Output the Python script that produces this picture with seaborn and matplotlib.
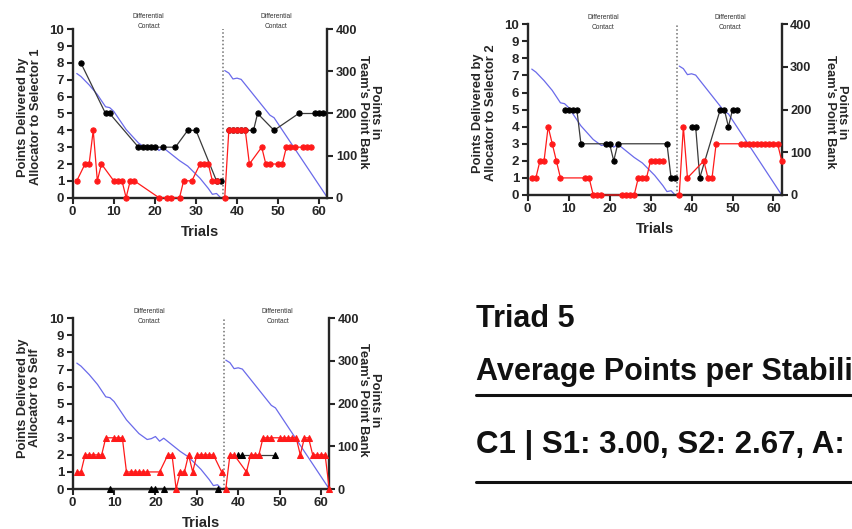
import numpy as np
import pandas as pd
import seaborn as sns
import matplotlib.pyplot as plt
from matplotlib.lines import Line2D

# team's point bank (right axis), the same in all three panels
bank_trials = [1, 2, 4, 6, 8, 9, 10, 13, 16, 18, 19, 20, 21, 22, 26, 28, 31, 33, 34, 35, 36,
               37, 38, 39, 40, 41, 48, 49, 62]
bank_points = [295, 288, 268, 245, 216, 214, 205, 162, 130, 116, 118, 123, 112, 119, 88, 75, 46, 22, 8, 10, 0,
               302, 296, 282, 284, 281, 196, 190, 0]

# allocator -> selector 1
s1_red_trials = [1, 3, 4, 5, 6, 7, 10, 11, 12, 13, 14, 15, 21, 23, 24, 26, 27, 29, 31, 32, 33, 34, 35,
                 37, 38, 39, 40, 41, 42, 43, 46, 47, 48, 50, 51, 52, 53, 54, 56, 57, 58]
s1_red = [1, 2, 2, 4, 1, 2, 1, 1, 1, 0, 1, 1, 0, 0, 0, 0, 1, 1, 2, 2, 2, 1, 1,
          0, 4, 4, 4, 4, 4, 2, 3, 2, 2, 2, 2, 3, 3, 3, 3, 3, 3]
s1_black_trials = [2, 8, 9, 16, 17, 18, 19, 20, 22, 25, 28, 30, 35, 36,
                   38, 39, 40, 41, 42, 44, 45, 49, 55, 59, 60, 61]
s1_black = [8, 5, 5, 3, 3, 3, 3, 3, 3, 3, 4, 4, 1, 1,
            4, 4, 4, 4, 4, 4, 5, 4, 5, 5, 5, 5]

# allocator -> selector 2
s2_red_trials = [1, 2, 3, 4, 5, 6, 7, 8, 14, 15, 16, 17, 18, 23, 24, 25, 26, 27, 28, 29, 30, 31, 32, 33,
                 37, 38, 39, 43, 44, 45, 46, 52, 53, 54, 55, 56, 57, 58, 59, 60, 61, 62]
s2_red = [1, 1, 2, 2, 4, 3, 2, 1, 1, 1, 0, 0, 0, 0, 0, 0, 0, 1, 1, 1, 2, 2, 2, 2,
          0, 4, 1, 2, 1, 1, 3, 3, 3, 3, 3, 3, 3, 3, 3, 3, 3, 2]
s2_black_trials = [9, 10, 11, 12, 13, 19, 20, 21, 22, 34, 35, 36,
                   40, 41, 42, 47, 48, 49, 50, 51]
s2_black = [5, 5, 5, 5, 3, 3, 3, 2, 3, 3, 1, 1,
            4, 4, 1, 5, 5, 4, 5, 5]

# allocator -> self
a_red_trials = [1, 2, 3, 4, 5, 6, 7, 8, 10, 11, 12, 13, 14, 15, 16, 17, 18, 21, 23, 24, 25, 26, 27, 28,
                29, 30, 31, 32, 33, 34, 36,
                37, 38, 39, 42, 43, 44, 45, 46, 47, 48, 50, 51, 52, 53, 54, 55, 56, 57, 58, 59, 60, 61, 62]
a_red = [1, 1, 2, 2, 2, 2, 2, 3, 3, 3, 3, 1, 1, 1, 1, 1, 1, 1, 2, 2, 0, 1, 1, 2,
         1, 2, 2, 2, 2, 2, 1,
         0, 2, 2, 1, 2, 2, 2, 3, 3, 3, 3, 3, 3, 3, 3, 2, 3, 3, 2, 2, 2, 2, 0]
a_black_trials = [9, 19, 20, 22, 35, 40, 41, 49]
a_black = [0, 0, 0, 0, 0, 2, 2, 2]

phase_change = 36.5
note_text = 'Differential\nContact'

sns.set_theme(style='ticks')
plt.rcParams['font.family'] = ['Liberation Sans', 'DejaVu Sans']
plt.rcParams['font.weight'] = 'bold'
plt.rcParams['axes.labelweight'] = 'bold'


def phase_frame(trials, points):
    df = pd.DataFrame({'trial': trials, 'points': points})
    df['phase'] = np.where(df['trial'] > 36, 2, 1)
    return df


fig = plt.figure(figsize=(8.53, 5.29), dpi=100)


def draw_panel(rect, red_t, red_v, blk_t, blk_v, marker, ms, ylabel, lab_y, rlab_x, rlab_y, note_y):
    ax = fig.add_axes(rect)
    ax2 = ax.twinx()
    ax.set_zorder(ax2.get_zorder() + 1)
    ax.patch.set_visible(False)

    bank = phase_frame(bank_trials, bank_points)
    sns.lineplot(data=bank, x='trial', y='points', units='phase', estimator=None,
                 ax=ax2, color='#6a6aea', lw=0.9)

    blk = phase_frame(blk_t, blk_v)
    sns.lineplot(data=blk, x='trial', y='points', units='phase', estimator=None, ax=ax,
                 color='#3a3a3a', lw=0.9, marker=marker, markersize=ms,
                 markerfacecolor='black', markeredgecolor='black', clip_on=False, zorder=3)
    red = phase_frame(red_t, red_v)
    sns.lineplot(data=red, x='trial', y='points', units='phase', estimator=None, ax=ax,
                 color='#ff1a1a', lw=0.9, marker=marker, markersize=ms,
                 markerfacecolor='#ff1a1a', markeredgecolor='#ff1a1a', clip_on=False, zorder=4)

    ax.axvline(phase_change, color='#707070', ls=(0, (1, 1.5)), lw=1.1, zorder=1)

    ax.set_xlim(0, 62)
    ax.set_ylim(0, 10)
    ax2.set_ylim(0, 400)
    ax.set_xticks(range(0, 61, 10))
    ax.set_yticks(range(0, 11))
    ax2.set_yticks(range(0, 401, 100))

    for s in ['top', 'right']:
        ax.spines[s].set_visible(False)
    for s in ['top', 'left', 'bottom']:
        ax2.spines[s].set_visible(False)
    for s in ['left', 'bottom']:
        ax.spines[s].set_linewidth(1.7)
    ax2.spines['right'].set_linewidth(1.7)
    ax.tick_params(direction='out', length=4, width=1.5, labelsize=9.5, pad=2)
    ax2.tick_params(direction='out', length=4, width=1.5, labelsize=9.2, pad=2)

    ax.set_xlabel('Trials', fontsize=10.5, fontweight='bold', labelpad=5)
    ax.set_ylabel(ylabel, fontsize=9.3, fontweight='bold', linespacing=1.05)
    ax.yaxis.set_label_coords(-0.122, lab_y)
    ax2.set_ylabel("Points in\nTeam's Point Bank", fontsize=9.3, fontweight='bold',
                   rotation=270, va='bottom', linespacing=1.05)
    ax2.yaxis.set_label_coords(rlab_x, rlab_y)

    for x in [18.5, 49.5]:
        ax.text(x, note_y, note_text, transform=ax.get_xaxis_transform(), ha='center', va='center',
                fontsize=4.8, fontweight='normal', color='#333333', linespacing=1.6)
    return ax


draw_panel([0.0852, 0.6263, 0.2987, 0.3183], s1_red_trials, s1_red, s1_black_trials, s1_black,
           'o', 3.8, 'Points Delivered by\nAllocator to Selector 1', 0.48, 1.115, 0.51, 1.046)
draw_panel([0.6186, 0.6314, 0.2978, 0.3227], s2_red_trials, s2_red, s2_black_trials, s2_black,
           'o', 3.8, 'Points Delivered by\nAllocator to Selector 2', 0.48, 1.165, 0.486, 1.013)
draw_panel([0.0852, 0.0756, 0.3008, 0.3227], a_red_trials, a_red, a_black_trials, a_black,
           '^', 4.6, 'Points Delivered by\nAllocator to Self', 0.533, 1.108, 0.52, 1.012)

# summary text on the right
fig.text(0.558, 0.3824, 'Triad 5', fontsize=22, va='baseline', color='#111111')
fig.text(0.558, 0.2817, 'Average Points per Stability Condition', fontsize=22, va='baseline', color='#111111')
fig.text(0.558, 0.1431, 'C1 | S1: 3.00, S2: 2.67, A:', fontsize=22.5, va='baseline', color='#111111')
fig.add_artist(Line2D([0.558, 1.0], [0.2533, 0.2533], color='#111111', lw=2.2))
fig.add_artist(Line2D([0.558, 1.0], [0.0883, 0.0883], color='#111111', lw=2.2))

fig.savefig('out.png', dpi=100)
